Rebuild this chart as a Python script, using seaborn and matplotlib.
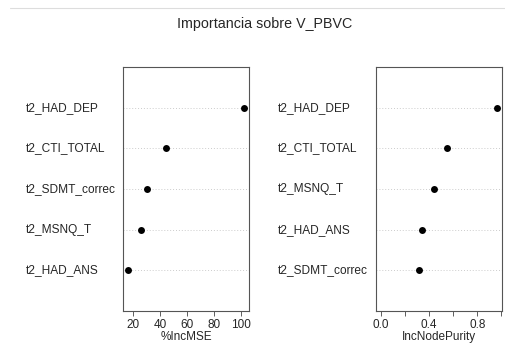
# Importancia de variables (estilo varImpPlot de randomForest)
import matplotlib
matplotlib.use("Agg")
import matplotlib.pyplot as plt
import matplotlib.transforms as mtransforms
import pandas as pd
import seaborn as sns

# --- datos ---
vars_mse = ["t2_HAD_DEP", "t2_CTI_TOTAL", "t2_SDMT_correc", "t2_MSNQ_T", "t2_HAD_ANS"]
inc_mse = [102.3, 44.3, 30.0, 25.5, 16.0]

vars_pur = ["t2_HAD_DEP", "t2_CTI_TOTAL", "t2_MSNQ_T", "t2_HAD_ANS", "t2_SDMT_correc"]
inc_pur = [0.967, 0.547, 0.442, 0.344, 0.320]

mse_ticks = [20, 40, 60, 80, 100]
pur_ticks = [0.0, 0.2, 0.4, 0.6, 0.8, 1.0]
pur_ticklabels = ["0.0", "", "0.4", "", "0.8", ""]

titulo = "Importancia sobre V_PBVC"

sns.set_style("white")
plt.rcParams['font.family'] = ['Liberation Sans', 'DejaVu Sans']

fig = plt.figure(figsize=(5.06, 3.47), dpi=100)


def panel(left, label_x, names, values, xlabel, ticks, ticklabels, xlim):
    ax = fig.add_axes([left, 0.1037, 0.249, 0.7032])
    df = pd.DataFrame({"var": names, "val": values})
    n = len(names)
    # lineas punteadas de cada fila
    for i in range(n):
        ax.axhline(i, color="#cccccc", linestyle=(0, (1, 2)), linewidth=0.7, zorder=1)
    sns.stripplot(data=df, x="val", y="var", order=names, orient="h",
                  color="black", size=5, jitter=False, ax=ax, zorder=3)
    ax.set_ylim(n, -1)
    ax.set_xlim(*xlim)
    ax.set_yticks([])
    ax.set_ylabel("")
    ax.set_xlabel(xlabel, fontsize=8.5, labelpad=0)
    ax.set_xticks(ticks)
    ax.set_xticklabels(ticklabels, fontsize=8.5)
    ax.tick_params(axis="x", direction="out", length=3.5, width=0.6,
                   color="#444444", pad=2.5, bottom=True)
    for s in ax.spines.values():
        s.set_visible(True)
        s.set_color("#555555")
        s.set_linewidth(0.8)
    # etiquetas alineadas a la izquierda como en dotchart
    tr = mtransforms.blended_transform_factory(fig.transFigure, ax.transData)
    for i, nm in enumerate(names):
        fig.text(label_x, i, nm, transform=tr, ha="left", va="center", fontsize=8.6)
    return ax


def rango(values):
    lo, hi = min(values), max(values)
    pad = (hi - lo) * 0.04
    return lo - pad, hi + pad


panel(0.2431, 0.0514, vars_mse, inc_mse, "%IncMSE", mse_ticks,
      [str(t) for t in mse_ticks], rango(inc_mse))
panel(0.7431, 0.549, vars_pur, inc_pur, "IncNodePurity", pur_ticks,
      pur_ticklabels, rango([0.0] + inc_pur))

fig.text(0.522, 0.931, titulo, ha="center", va="center", fontsize=10.3)
fig.add_artist(plt.Line2D([0.02, 1.0], [0.978, 0.978], color="#dddddd",
                          linewidth=0.8, transform=fig.transFigure))

plt.savefig("out.png", dpi=100)
